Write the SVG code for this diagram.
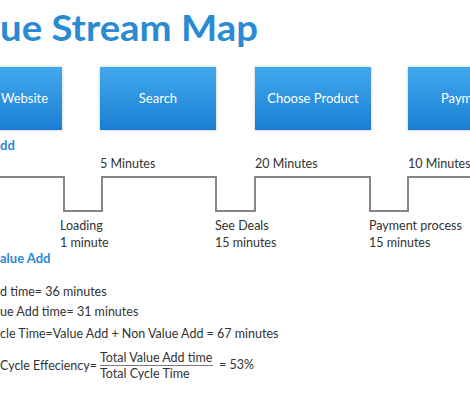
<svg xmlns="http://www.w3.org/2000/svg" width="470" height="400" viewBox="0 0 470 400">
<defs>
<linearGradient id="boxg" x1="0" y1="0" x2="0" y2="1">
<stop offset="0" stop-color="#42a8ee"/>
<stop offset="1" stop-color="#1a7ed2"/>
</linearGradient>
<filter id="glow" x="-10%" y="-10%" width="120%" height="120%">
<feGaussianBlur in="SourceAlpha" stdDeviation="1.5"/>
<feComponentTransfer><feFuncA type="linear" slope="0.25"/></feComponentTransfer>
<feMerge><feMergeNode/><feMergeNode in="SourceGraphic"/></feMerge>
</filter>
</defs>
<style>
.box{fill:url(#boxg);filter:url(#glow)}
.bt{font-family:Lato,"Open Sans",sans-serif;font-size:13px;fill:#ffffff;text-anchor:middle}
.t{font-family:Lato,"Open Sans",sans-serif;font-size:12.5px;fill:#333333}
.h{font-family:Lato,"Open Sans",sans-serif;font-size:13px;font-weight:bold;fill:#2a8ad2}
.title{font-family:Lato,"Open Sans",sans-serif;font-size:37px;font-weight:bold;fill:#2a8ad2}
.step{fill:none;stroke:#858585;stroke-width:2}
</style>
<rect width="470" height="400" fill="#ffffff"/>
<text class="title" x="0" y="41" textLength="258" lengthAdjust="spacingAndGlyphs">ue Stream Map</text>

<g id="node-website"><rect class="box" x="-55" y="67" width="117" height="63"/><text class="t" x="1" y="103" style="fill:#fff;font-size:13px">Website</text></g>
<g id="node-search"><rect class="box" x="100" y="67" width="116" height="63"/><text class="bt" x="158" y="103">Search</text></g>
<g id="node-choose"><rect class="box" x="255" y="67" width="116" height="63"/><text class="bt" x="313" y="103">Choose Product</text></g>
<g id="node-payment"><rect class="box" x="408" y="67" width="116" height="63"/><text class="bt" x="466" y="103">Payment</text></g>

<g id="connectors">
<path class="step" d="M0,177 H64 V211 H102 V177 H216 V211 H255 V177 H370 V211 H408 V177 H470"/>
</g>

<text class="h" x="0" y="150">dd</text>
<text class="t" x="100" y="168">5 Minutes</text>
<text class="t" x="255" y="168">20 Minutes</text>
<text class="t" x="408" y="168">10 Minutes</text>

<text class="t" x="60" y="230">Loading</text>
<text class="t" x="60" y="247">1 minute</text>
<text class="t" x="215" y="230">See Deals</text>
<text class="t" x="215" y="247">15 minutes</text>
<text class="t" x="369" y="230">Payment process</text>
<text class="t" x="369" y="247">15 minutes</text>

<text class="h" x="0" y="263">alue Add</text>
<text class="t" x="0" y="296">d time= 36 minutes</text>
<text class="t" x="0" y="316">ue Add time= 31 minutes</text>
<text class="t" x="0" y="338">cle Time=Value Add + Non Value Add = 67 minutes</text>
<text class="t" x="0" y="370">Cycle Effeciency=</text>
<text class="t" x="100" y="362">Total Value Add time</text>
<line x1="100" y1="365.5" x2="213" y2="365.5" stroke="#555" stroke-width="0.8"/>
<text class="t" x="100" y="378">Total Cycle Time</text>
<text class="t" x="219" y="369">= 53%</text>
</svg>
